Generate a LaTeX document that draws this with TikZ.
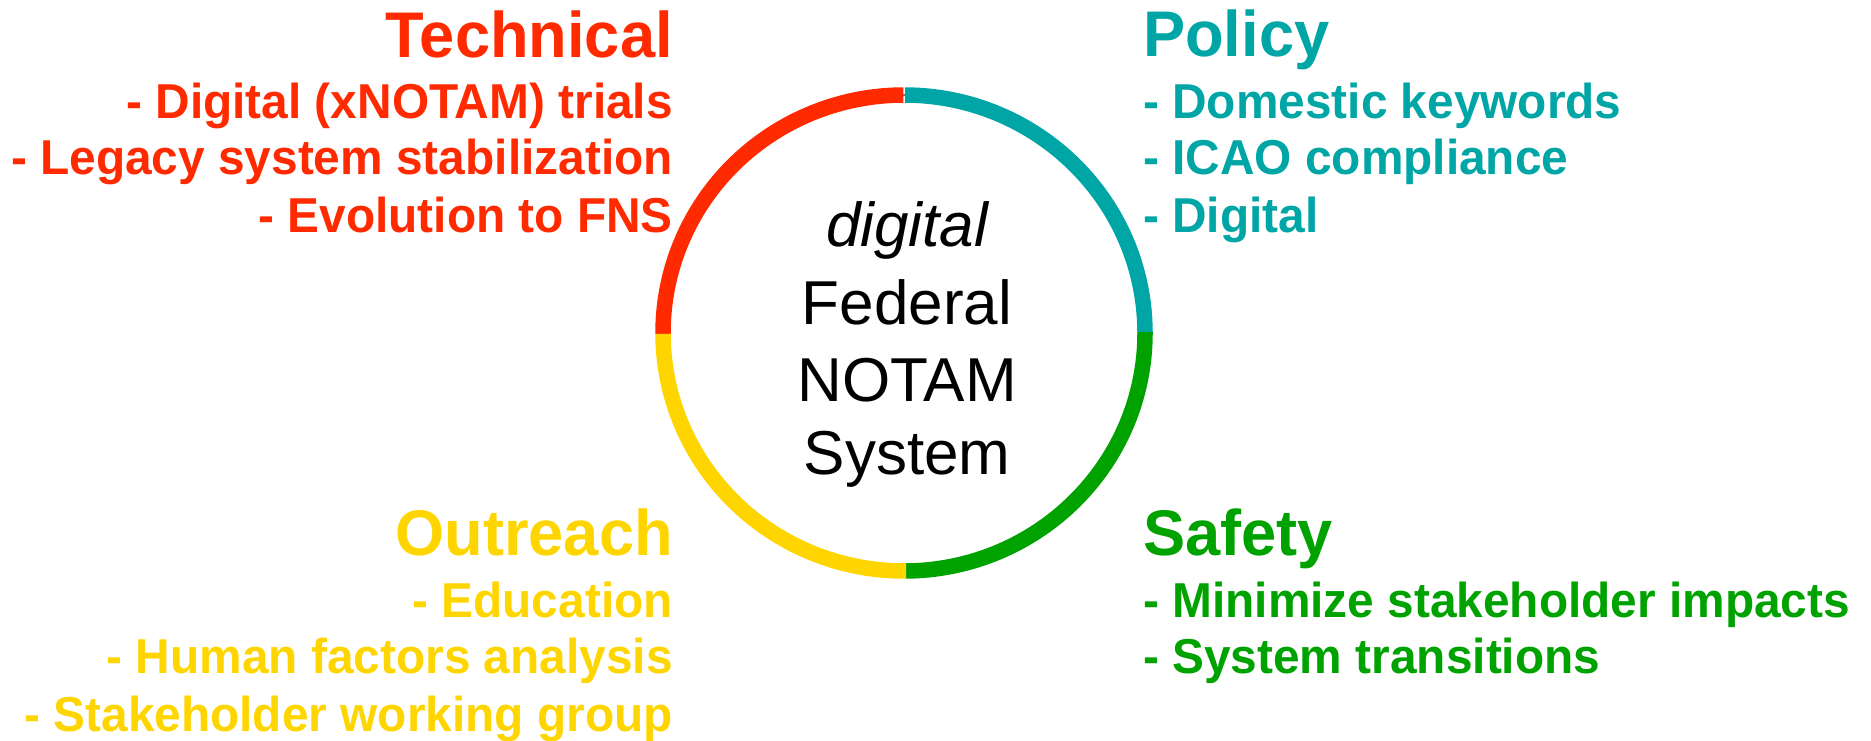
\documentclass[tikz,border=0pt]{standalone}
\usepackage{fontspec}
\setmainfont{Liberation Sans}
\newfontfamily\ttlfont[FakeStretch=0.98]{Liberation Sans}
\newfontfamily\itmfont[FakeStretch=0.976]{Liberation Sans}
\definecolor{cred}{RGB}{255,42,0}
\definecolor{cteal}{RGB}{0,166,166}
\definecolor{cgreen}{RGB}{0,162,0}
\definecolor{cyellow}{RGB}{255,213,0}
\begin{document}
\begin{tikzpicture}[x=1pt,y=1pt,
  ttl/.style={inner sep=0pt,font=\ttlfont\fontsize{64.5}{70}\selectfont\bfseries},
  itm/.style={inner sep=0pt,font=\itmfont\fontsize{49}{55}\selectfont\bfseries},
  ctr/.style={inner sep=0pt,anchor=base,font=\fontsize{62}{70}\selectfont},
  seg/.style={line width=15.5pt,line cap=butt}]
\useasboundingbox (0,0) rectangle (1871,740);
\coordinate (c) at (904,407);
% thin underlying ring
\draw[line width=1pt,black] (c) ellipse [x radius=241, y radius=238];
% coloured segments
\draw[seg,cred] ([shift={(180.2:241 and 238)}]c) arc [start angle=180.2, end angle=90.15, x radius=241, y radius=238];
\draw[seg,cteal] ([shift={(89.75:241 and 238)}]c) arc [start angle=89.75, end angle=0.2, x radius=241, y radius=238];
\draw[seg,cgreen] ([shift={(0.2:241 and 238)}]c) arc [start angle=0.2, end angle=-89.6, x radius=241, y radius=238];
\draw[seg,cyellow] ([shift={(180.2:241 and 238)}]c) arc [start angle=180.2, end angle=270.5, x radius=241, y radius=238];
% centre text
\node[ctr] (c1) at (907,493) {\itshape digital};
\node[ctr] (c2) at (907,415.5) {Federal};
\node[ctr] (c3) at (907,338) {NOTAM};
\node[ctr] (c4) at (907,266) {System};
% Technical
\node[ttl,text=cred,anchor=base east] (t0) at (673,682.5) {Technical};
\node[itm,text=cred,anchor=base east] (t1) at (673,621) {- Digital (xNOTAM) trials};
\node[itm,text=cred,anchor=base east] (t2) at (673,565.3) {- Legacy system stabilization};
\node[itm,text=cred,anchor=base east] (t3) at (673,507.7) {- Evolution to FNS};
% Policy
\node[ttl,text=cteal,anchor=base west] (p0) at (1143,683.3) {Policy};
\node[itm,text=cteal,anchor=base west] (p1) at (1143,621.7) {- Domestic keywords};
\node[itm,text=cteal,anchor=base west] (p2) at (1143,565.7) {- ICAO compliance};
\node[itm,text=cteal,anchor=base west] (p3) at (1143,507.7) {- Digital};
% Outreach
\node[ttl,text=cyellow,anchor=base east] (o0) at (673,184.3) {Outreach};
\node[itm,text=cyellow,anchor=base east] (o1) at (673,122.3) {- Education};
\node[itm,text=cyellow,anchor=base east] (o2) at (673,66.3) {- Human factors analysis};
\node[itm,text=cyellow,anchor=base east] (o3) at (673,8.3) {- Stakeholder working group};
% Safety
\node[ttl,text=cgreen,anchor=base west] (s0) at (1143,184.3) {Safety};
\node[itm,text=cgreen,anchor=base west] (s1) at (1143,122.2) {- Minimize stakeholder impacts};
\node[itm,text=cgreen,anchor=base west] (s2) at (1143,66.7) {- System transitions};
\end{tikzpicture}
\end{document}
